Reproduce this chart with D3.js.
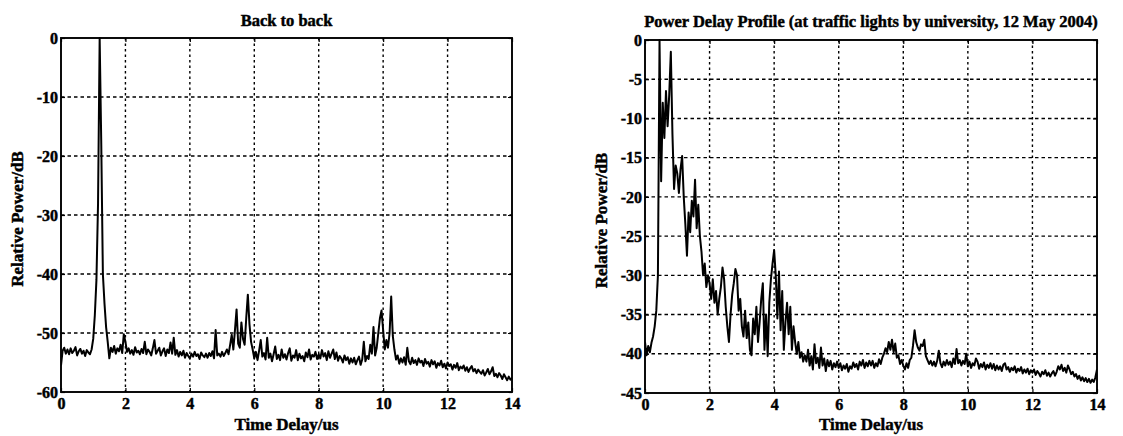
<!DOCTYPE html>
<html><head><meta charset="utf-8">
<script src="https://cdn.jsdelivr.net/npm/d3@7/dist/d3.min.js"></script>
<style>
body{margin:0;background:#fff}
svg{display:block}
text{font-family:"Liberation Serif","Times New Roman",serif;font-weight:bold;fill:#000;stroke:#000;stroke-width:0.45px}
</style>
</head><body>
<svg id="chart" width="1123" height="436"></svg>
<script>
// ---- data ----
const xTicks = [0, 2, 4, 6, 8, 10, 12, 14];
const yTicksLeft = [0, -10, -20, -30, -40, -50, -60];
const yTicksRight = [0, -5, -10, -15, -20, -25, -30, -35, -40, -45];
const titleLeft = "Back to back";
const titleRight = "Power Delay Profile (at traffic lights by university, 12 May 2004)";
const xLabel = "Time Delay/us";
const yLabel = "Relative Power/dB";
const sampleStep = 0.05; // us between samples, starting at 0

const powerLeft = [
 -55.5,-53.0,-52.5,-53.5,-52.8,-53.6,-52.6,-53.4,-53.0,-52.4,-53.8,-53.1,-52.7,-53.5,-53.0,-53.9,-52.9,-53.3,-53.6,-52.8,
 -51.0,-47.0,-41.0,-28.0,0,-18.0,-40.0,-45.0,-49.0,-51.5,-54.3,-52.5,-53.2,-52.2,-53.5,-52.6,-53.1,-52.0,-53.4,-50.2,
 -51.5,-53.2,-52.6,-53.5,-52.9,-53.7,-52.4,-53.3,-53.0,-53.6,-52.7,-53.4,-51.5,-53.6,-52.8,-53.2,-53.8,-52.6,-51.2,-53.5,
 -53.0,-52.5,-53.8,-53.1,-52.6,-53.9,-52.8,-53.4,-51.6,-53.5,-50.8,-53.7,-52.9,-54.0,-53.2,-53.8,-53.0,-54.2,-53.4,-53.9,
 -54.3,-53.5,-54.0,-53.2,-53.9,-53.6,-54.4,-53.3,-53.8,-54.1,-53.5,-54.2,-53.4,-53.9,-53.1,-54.3,-49.5,-53.8,-53.5,-54.0,
 -53.2,-53.9,-53.4,-52.8,-53.6,-52.0,-50.3,-52.8,-49.5,-46.0,-51.8,-52.5,-48.2,-51.0,-52.0,-47.5,-43.5,-48.5,-51.5,-52.8,
 -54.3,-53.2,-54.6,-53.0,-51.2,-54.0,-53.4,-54.5,-50.8,-54.2,-53.5,-54.8,-53.6,-52.3,-54.4,-53.7,-54.6,-52.8,-54.2,-53.6,
 -54.5,-53.4,-52.6,-54.7,-53.8,-54.2,-52.9,-54.6,-53.5,-54.3,-53.9,-54.8,-53.3,-54.1,-52.8,-54.5,-53.7,-54.0,-53.2,-54.4,
 -53.6,-54.3,-52.9,-54.0,-53.4,-54.6,-53.1,-54.2,-53.5,-52.8,-54.4,-53.3,-54.7,-53.9,-54.3,-55.0,-53.8,-54.6,-54.1,-55.2,
 -54.3,-55.0,-54.2,-55.3,-54.6,-54.0,-55.4,-54.5,-51.5,-54.8,-53.9,-54.4,-52.0,-53.5,-49.0,-53.8,-52.5,-50.0,-47.5,-46.2,
 -49.5,-52.8,-51.2,-52.5,-50.0,-43.8,-50.5,-52.8,-54.5,-53.8,-55.2,-54.3,-55.0,-54.1,-55.4,-52.5,-54.8,-55.3,-54.2,-55.1,
 -54.6,-55.4,-54.3,-55.0,-54.7,-55.6,-54.4,-55.2,-54.9,-55.7,-54.6,-55.3,-54.8,-55.9,-55.1,-55.5,-54.7,-55.8,-55.2,-56.0,
 -55.0,-55.6,-55.3,-56.2,-55.4,-55.9,-55.1,-56.3,-55.7,-56.0,-55.5,-56.4,-55.8,-56.6,-56.0,-55.6,-56.5,-56.1,-56.8,-56.2,
 -56.6,-56.9,-56.3,-57.2,-56.7,-56.1,-57.0,-56.5,-55.8,-57.3,-56.9,-57.5,-56.8,-57.2,-57.8,-57.0,-57.5,-58.0,-57.4,-57.9,
 -57.6
];

const powerRight = [
 -38.5,-40.2,-39.0,-39.8,-38.6,-37.8,-36.5,-34.5,-30.0,0,-18.0,-8.0,-12.5,-6.5,-11.0,-7.0,-1.5,-12.0,-19.0,-16.0,
 -17.0,-19.5,-16.5,-14.8,-20.0,-23.5,-27.5,-22.0,-24.5,-20.5,-22.5,-17.8,-24.0,-21.0,-25.0,-27.0,-30.0,-28.5,-31.5,-30.0,
 -31.0,-33.0,-30.5,-33.5,-32.0,-35.0,-33.0,-31.5,-29.0,-30.5,-34.0,-36.5,-38.5,-35.0,-32.5,-31.0,-29.2,-30.0,-34.5,-33.0,
 -36.5,-37.8,-34.5,-38.0,-36.0,-39.5,-40.2,-35.5,-37.5,-34.0,-38.5,-36.0,-33.0,-31.0,-39.5,-35.0,-40.3,-33.5,-30.5,-28.5,
 -26.8,-30.0,-35.5,-29.5,-37.0,-32.0,-39.5,-36.0,-33.5,-37.5,-34.0,-39.5,-36.5,-38.5,-40.0,-38.5,-40.5,-39.8,-41.0,-40.2,
 -41.0,-39.5,-41.5,-40.3,-42.0,-38.8,-41.2,-40.5,-41.8,-39.2,-41.5,-40.6,-42.2,-40.8,-41.6,-40.9,-42.0,-41.2,-41.7,-41.0,
 -41.8,-41.2,-42.1,-41.5,-41.9,-41.3,-42.3,-41.6,-41.9,-41.1,-41.7,-41.3,-42.0,-41.0,-41.5,-40.8,-41.8,-41.1,-41.6,-40.9,
 -41.5,-40.9,-41.8,-41.2,-41.6,-40.7,-41.3,-40.5,-40.0,-39.3,-39.8,-38.5,-39.5,-38.2,-39.8,-38.7,-40.5,-40.2,-41.3,-40.8,
 -41.5,-42.0,-41.2,-41.8,-40.8,-40.5,-39.0,-37.0,-38.5,-39.2,-39.6,-38.8,-39.0,-38.2,-40.3,-40.8,-41.3,-40.9,-41.5,-41.0,
 -41.6,-40.9,-39.6,-41.2,-41.7,-41.0,-41.5,-40.8,-41.4,-41.0,-41.7,-40.6,-41.3,-39.4,-41.2,-40.8,-41.5,-40.9,-41.3,-40.0,
 -41.6,-41.0,-41.8,-41.2,-41.5,-40.6,-41.0,-41.9,-41.3,-41.7,-41.1,-42.0,-41.4,-41.8,-41.2,-41.9,-41.3,-42.1,-41.5,-42.0,
 -41.6,-42.2,-41.4,-41.2,-42.0,-41.7,-42.3,-41.8,-42.1,-41.6,-42.4,-41.9,-42.2,-41.7,-42.5,-42.0,-42.4,-41.9,-42.6,-42.1,
 -42.4,-42.0,-42.7,-42.2,-42.5,-42.9,-42.3,-42.6,-42.1,-42.8,-42.4,-42.9,-42.5,-42.2,-42.8,-42.3,-41.6,-42.0,-41.4,-42.2,
 -41.8,-42.4,-41.5,-42.0,-42.6,-42.3,-42.9,-42.6,-43.2,-42.8,-43.4,-43.0,-43.5,-43.1,-43.6,-43.2,-43.7,-43.3,-43.6,-43.0,
 -42.0
];

// ---- drawing ----
const svg = d3.select("#chart");
svg.append("rect").attr("width",1123).attr("height",436).attr("fill","#fff");

const panels = [
  {left:61, right:512, top:38, bottom:392, yDomain:[-60,0], yTicks:yTicksLeft, values:powerLeft, title:titleLeft, titleY:26, yLabelX:23, id:"a"},
  {left:645, right:1097, top:40, bottom:393, yDomain:[-45,0], yTicks:yTicksRight, values:powerRight, title:titleRight, titleY:27, yLabelX:607, id:"b"}
];

panels.forEach(p => {
  const x = d3.scaleLinear().domain([0,14]).range([p.left,p.right]);
  const y = d3.scaleLinear().domain(p.yDomain).range([p.bottom,p.top]);
  const g = svg.append("g");

  // grid
  g.append("g").selectAll("line").data(xTicks.filter(t => t>0 && t<14)).join("line")
    .attr("x1",d=>x(d)).attr("x2",d=>x(d)).attr("y1",p.top).attr("y2",p.bottom)
    .attr("stroke","#000").attr("stroke-width",1.4).attr("stroke-dasharray","2.5,3");
  g.append("g").selectAll("line").data(p.yTicks.filter(t => t<0 && t>p.yDomain[0])).join("line")
    .attr("x1",p.left).attr("x2",p.right).attr("y1",d=>y(d)).attr("y2",d=>y(d))
    .attr("stroke","#000").attr("stroke-width",1.4).attr("stroke-dasharray","3.5,3");

  // axes (ticks point inward)
  const ax = g.append("g").attr("transform",`translate(0,${p.bottom})`)
    .call(d3.axisBottom(x).tickValues(xTicks).tickSize(-4).tickPadding(6).tickFormat(d3.format("d")));
  const ay = g.append("g").attr("transform",`translate(${p.left},0)`)
    .call(d3.axisLeft(y).tickValues(p.yTicks).tickSize(-4).tickPadding(3).tickFormat(d => d3.format("d")(d).replace("−","-")));
  const ayr = g.append("g").attr("transform",`translate(${p.right},0)`)
    .call(d3.axisRight(y).tickValues(p.yTicks).tickSize(-4).tickFormat(""));
  const axt = g.append("g").attr("transform",`translate(0,${p.top})`)
    .call(d3.axisTop(x).tickValues(xTicks).tickSize(-4).tickFormat(""));
  [ax,ay,ayr,axt].forEach(a => {
    a.select(".domain").remove();
    a.selectAll(".tick line").attr("stroke","#000").attr("stroke-width",1.2);
    a.selectAll("text").attr("font-family",null).attr("font-size",16).attr("fill","#000");
  });

  // data trace
  svg.append("clipPath").attr("id","clip"+p.id).append("rect")
    .attr("x",p.left).attr("y",p.top-1).attr("width",p.right-p.left).attr("height",p.bottom-p.top+1);
  const line = d3.line().x((d,i)=>x(i*sampleStep)).y(d=>y(d));
  g.append("path").datum(p.values).attr("d",line).attr("fill","none")
    .attr("stroke","#000").attr("stroke-width",2).attr("stroke-linejoin","round")
    .attr("clip-path",`url(#clip${p.id})`);

  // frame
  g.append("rect").attr("x",p.left).attr("y",p.top).attr("width",p.right-p.left).attr("height",p.bottom-p.top)
    .attr("fill","none").attr("stroke","#000").attr("stroke-width",1.9);

  // texts
  g.append("text").attr("x",(p.left+p.right)/2).attr("y",p.titleY).attr("text-anchor","middle")
    .attr("font-size",16.5).text(p.title);
  g.append("text").attr("x",(p.left+p.right)/2).attr("y",430).attr("text-anchor","middle")
    .attr("font-size",17).text(xLabel);
  g.append("text").attr("transform",`translate(${p.yLabelX},${(p.top+p.bottom)/2+4}) rotate(-90)`)
    .attr("text-anchor","middle").attr("font-size",17).text(yLabel);
});
</script>
</body></html>
